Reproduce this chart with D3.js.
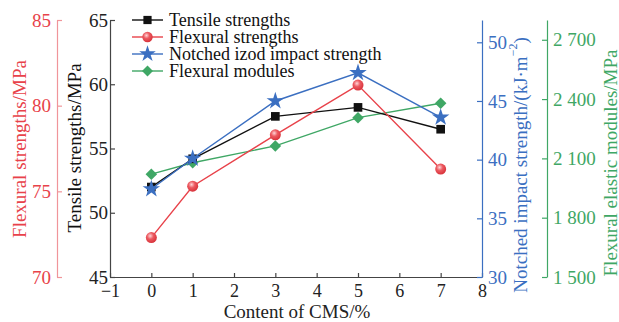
<!DOCTYPE html>
<html>
<head>
<meta charset="utf-8">
<script src="https://cdn.jsdelivr.net/npm/d3@7"></script>
<style>
  body { margin: 0; background: #fff; }
  svg, svg text { font-family: "Times New Roman", Tinos, "Liberation Serif", Times, "DejaVu Serif", serif; }
</style>
</head>
<body>
<svg width="619" height="322"></svg>
<script>
// values
const cms = [0, 1, 3, 5, 7];
const tensile = [52.0, 54.2, 57.5, 58.2, 56.5];
const flexStrength = [72.3, 75.3, 78.3, 81.2, 76.3];
const impact = [37.5, 40.1, 45.0, 47.4, 43.6];
const modulus = [2020, 2078, 2163, 2306, 2379];

const xTicks = [-1, 0, 1, 2, 3, 4, 5, 6, 7, 8];
const tensileTicks = [45, 50, 55, 60, 65];
const flexTicks = [70, 75, 80, 85];
const impactTicks = [30, 35, 40, 45, 50];
const modulusTicks = [1500, 1800, 2100, 2400, 2700];

const black = "#111", red = "#e8424a", blue = "#3b6fc1", green = "#3fa765";

const svg = d3.select("svg");
const plotTop = 20, plotBottom = 277;

const x = d3.scaleLinear().domain([-1, 8]).range([110, 482]);
const yT = d3.scaleLinear().domain([45, 65]).range([plotBottom, plotTop]);
const yF = d3.scaleLinear().domain([70, 85]).range([plotBottom, plotTop]);
const yN = d3.scaleLinear().domain([30, 51.9]).range([plotBottom, plotTop]);
const yM = d3.scaleLinear().domain([1500, 2800]).range([plotBottom, plotTop]);

function styleAxis(g, color, lineColor, size) {
    g.attr("font-family", null);
    g.selectAll("path,line").attr("stroke", lineColor || color).attr("stroke-width", 1.2);
    g.selectAll("text").attr("fill", color).attr("font-size", size || 19);
}

// x axis
const gx = svg.append("g").attr("transform", `translate(0,${plotBottom})`)
    .call(d3.axisBottom(x).tickValues(xTicks).tickSizeInner(-4).tickSizeOuter(0).tickPadding(7)
        .tickFormat(d => d < 0 ? "\u2212" + Math.abs(d) : d));
styleAxis(gx, "#222", "#444", 18);

// left axes
const gT = svg.append("g").attr("transform", `translate(110,0)`)
    .call(d3.axisLeft(yT).tickValues(tensileTicks).tickSizeInner(-5).tickSizeOuter(0).tickPadding(2));
styleAxis(gT, "#222", "#444");

const gF = svg.append("g").attr("transform", `translate(57,0)`)
    .call(d3.axisLeft(yF).tickValues(flexTicks).tickSizeInner(-5).tickSizeOuter(0).tickPadding(6));
styleAxis(gF, red, "#f0959a");

// right axes
const gN = svg.append("g").attr("transform", `translate(482,0)`)
    .call(d3.axisRight(yN).tickValues(impactTicks).tickSizeInner(-5).tickSizeOuter(0).tickPadding(6));
styleAxis(gN, blue);

const gM = svg.append("g").attr("transform", `translate(547,0)`)
    .call(d3.axisRight(yM).tickValues(modulusTicks).tickSizeInner(-5).tickSizeOuter(0).tickPadding(6)
        .tickFormat(d => String(d).replace(/(\d)(\d{3})$/, "$1 $2")));
styleAxis(gM, green);

// axis titles
function vTitle(cx, cy, color, text) {
    return svg.append("text")
        .attr("transform", `translate(${cx},${cy}) rotate(-90)`)
        .attr("text-anchor", "middle").attr("dominant-baseline", "central")
        .attr("font-size", 19).attr("fill", color).text(text);
}
vTitle(19, 149, red, "Flexural  strengths/MPa");
vTitle(74, 148, black, "Tensile  strengths/MPa");
const nt = vTitle(520, 165, blue, "");
nt.append("tspan").text("Notched  impact strength/(kJ\u00b7m");
nt.append("tspan").attr("font-size", 12).attr("dy", -7).text("\u22122");
nt.append("tspan").attr("dy", 7).text(")");
vTitle(610, 163, green, "Flexural elastic modules/MPa");

svg.append("text").attr("x", 297).attr("y", 318).attr("text-anchor", "middle")
    .attr("font-size", 19).attr("fill", "#222").text("Content of CMS/%");

// red ball gradient
const defs = svg.append("defs");
const grad = defs.append("radialGradient").attr("id", "ball").attr("cx", "40%").attr("cy", "35%").attr("r", "65%");
grad.append("stop").attr("offset", "0%").attr("stop-color", "#ffd4d6");
grad.append("stop").attr("offset", "45%").attr("stop-color", "#ec5a61");
grad.append("stop").attr("offset", "100%").attr("stop-color", "#d8323a");

const series = [
    { name: "Flexural modules", values: modulus, y: yM, color: green, symbol: d3.symbolDiamond2, size: 85, fill: green },
    { name: "Tensile strengths", values: tensile, y: yT, color: black, symbol: d3.symbolSquare, size: 75, fill: black },
    { name: "Flexural strengths", values: flexStrength, y: yF, color: red, symbol: d3.symbolCircle, size: 95, fill: "url(#ball)" },
    { name: "Notched izod impact strength", values: impact, y: yN, color: blue, symbol: d3.symbolStar, size: 95, fill: blue },
];

series.forEach(s => {
    const line = d3.line().x((d, i) => x(cms[i])).y(d => s.y(d));
    svg.append("path").datum(s.values).attr("d", line)
        .attr("fill", "none").attr("stroke", s.color).attr("stroke-width", 1.4);
    svg.selectAll(null).data(s.values).enter().append("path")
        .attr("transform", (d, i) => `translate(${x(cms[i])},${s.y(d)})`)
        .attr("d", d3.symbol().type(s.symbol).size(s.size))
        .attr("fill", s.fill);
});

// legend
const legendOrder = [series[1], series[2], series[3], series[0]];
const lg = svg.append("g");
legendOrder.forEach((s, i) => {
    const cy = 20 + i * 17;
    lg.append("line").attr("x1", 132).attr("x2", 163).attr("y1", cy).attr("y2", cy)
        .attr("stroke", s.color).attr("stroke-width", 1.4);
    lg.append("path").attr("transform", `translate(147.5,${cy})`)
        .attr("d", d3.symbol().type(s.symbol).size(s.size * 0.9)).attr("fill", s.fill);
    lg.append("text").attr("x", 169).attr("y", cy).attr("dominant-baseline", "central")
        .attr("font-size", 18).attr("fill", "#111").text(s.name);
});
</script>
</body>
</html>
